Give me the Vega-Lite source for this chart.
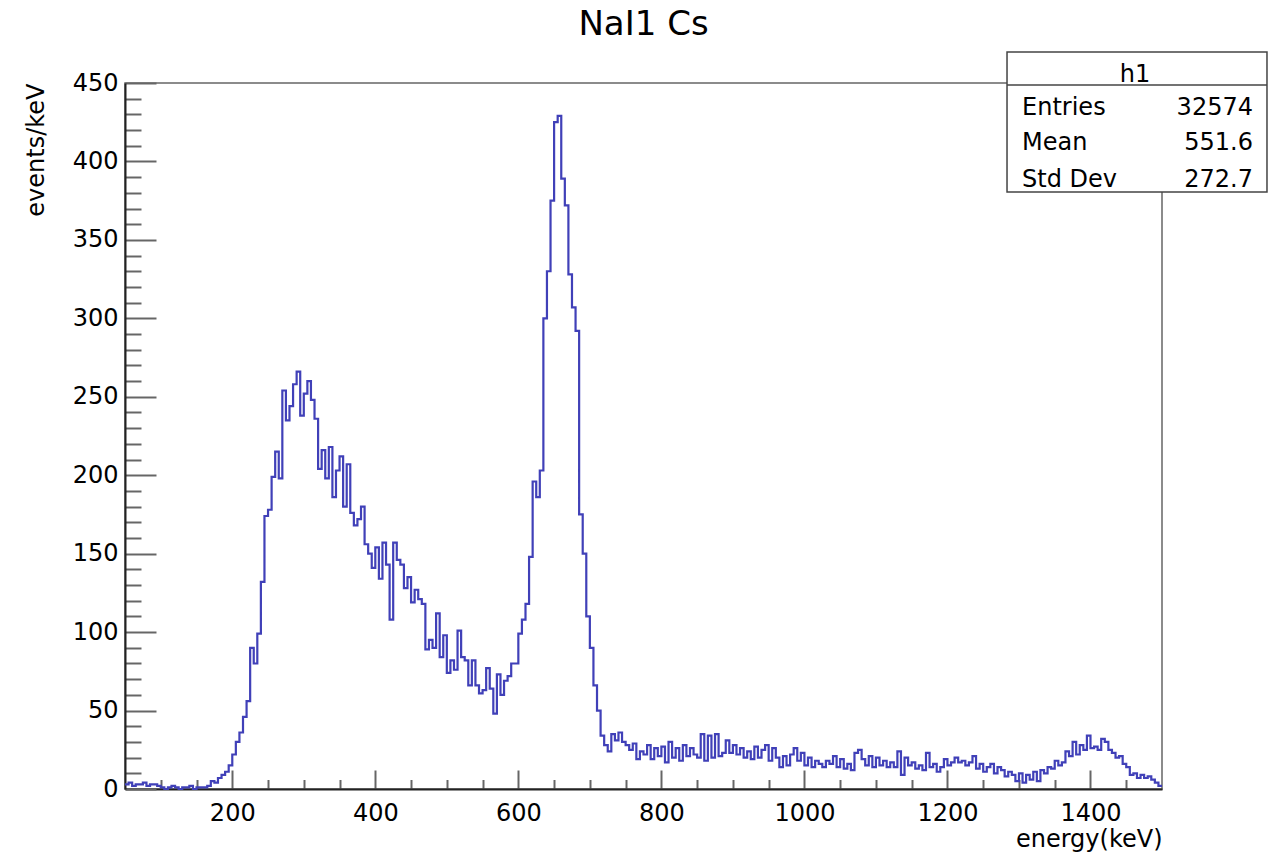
{
  "$schema": "https://vega.github.io/schema/vega-lite/v6.json",
  "width": 1037,
  "height": 706,
  "autosize": {"type": "none"},
  "padding": {"left": 125, "top": 83, "right": 106, "bottom": 63},
  "background": "white",
  "config": {"view": {"stroke": "#666666", "strokeWidth": 1.5}, "font": "DejaVu Sans"},
  "title": {"text": "NaI1 Cs", "fontSize": 34, "font": "DejaVu Sans", "fontWeight": "normal", "color": "black", "anchor": "middle", "baseline": "alphabetic", "offset": 14, "dy": 32},
  "datasets": {
    "h": [
      {"e":50,"v":3},{"e":55,"v":4},{"e":60,"v":2},{"e":65,"v":3},{"e":70,"v":3},{"e":75,"v":4},{"e":80,"v":2},{"e":85,"v":3},{"e":90,"v":3},{"e":95,"v":2},
      {"e":100,"v":1},{"e":105,"v":0},{"e":110,"v":1},{"e":115,"v":2},{"e":120,"v":1},{"e":125,"v":0},{"e":130,"v":1},{"e":135,"v":1},{"e":140,"v":2},{"e":145,"v":0},
      {"e":150,"v":1},{"e":155,"v":1},{"e":160,"v":1},{"e":165,"v":2},{"e":170,"v":5},{"e":175,"v":4},{"e":180,"v":7},{"e":185,"v":9},{"e":190,"v":11},{"e":195,"v":15},
      {"e":200,"v":22},{"e":205,"v":30},{"e":210,"v":36},{"e":215,"v":46},{"e":220,"v":56},{"e":225,"v":90},{"e":230,"v":80},{"e":235,"v":99},{"e":240,"v":132},{"e":245,"v":174},
      {"e":250,"v":178},{"e":255,"v":199},{"e":260,"v":215},{"e":265,"v":198},{"e":270,"v":254},{"e":275,"v":235},{"e":280,"v":244},{"e":285,"v":258},{"e":290,"v":266},{"e":295,"v":238},
      {"e":300,"v":252},{"e":305,"v":260},{"e":310,"v":248},{"e":315,"v":236},{"e":320,"v":204},{"e":325,"v":216},{"e":330,"v":198},{"e":335,"v":218},{"e":340,"v":186},{"e":345,"v":203},
      {"e":350,"v":212},{"e":355,"v":180},{"e":360,"v":207},{"e":365,"v":176},{"e":370,"v":168},{"e":375,"v":172},{"e":380,"v":180},{"e":385,"v":156},{"e":390,"v":150},{"e":395,"v":141},
      {"e":400,"v":154},{"e":405,"v":134},{"e":410,"v":157},{"e":415,"v":143},{"e":420,"v":108},{"e":425,"v":157},{"e":430,"v":146},{"e":435,"v":143},{"e":440,"v":128},{"e":445,"v":135},
      {"e":450,"v":119},{"e":455,"v":127},{"e":460,"v":121},{"e":465,"v":118},{"e":470,"v":89},{"e":475,"v":95},{"e":480,"v":90},{"e":485,"v":112},{"e":490,"v":84},{"e":495,"v":98},
      {"e":500,"v":74},{"e":505,"v":82},{"e":510,"v":76},{"e":515,"v":101},{"e":520,"v":84},{"e":525,"v":82},{"e":530,"v":66},{"e":535,"v":82},{"e":540,"v":66},{"e":545,"v":61},
      {"e":550,"v":63},{"e":555,"v":77},{"e":560,"v":64},{"e":565,"v":48},{"e":570,"v":73},{"e":575,"v":60},{"e":580,"v":69},{"e":585,"v":72},{"e":590,"v":80},{"e":595,"v":80},
      {"e":600,"v":99},{"e":605,"v":108},{"e":610,"v":118},{"e":615,"v":148},{"e":620,"v":196},{"e":625,"v":186},{"e":630,"v":203},{"e":635,"v":300},{"e":640,"v":330},{"e":645,"v":375},
      {"e":650,"v":425},{"e":655,"v":429},{"e":660,"v":389},{"e":665,"v":372},{"e":670,"v":328},{"e":675,"v":307},{"e":680,"v":292},{"e":685,"v":175},{"e":690,"v":150},{"e":695,"v":110},
      {"e":700,"v":90},{"e":705,"v":66},{"e":710,"v":50},{"e":715,"v":34},{"e":720,"v":28},{"e":725,"v":24},{"e":730,"v":35},{"e":735,"v":31},{"e":740,"v":36},{"e":745,"v":30},
      {"e":750,"v":28},{"e":755,"v":25},{"e":760,"v":29},{"e":765,"v":19},{"e":770,"v":24},{"e":775,"v":22},{"e":780,"v":28},{"e":785,"v":19},{"e":790,"v":26},{"e":795,"v":21},
      {"e":800,"v":27},{"e":805,"v":17},{"e":810,"v":30},{"e":815,"v":20},{"e":820,"v":26},{"e":825,"v":18},{"e":830,"v":28},{"e":835,"v":21},{"e":840,"v":26},{"e":845,"v":22},
      {"e":850,"v":20},{"e":855,"v":35},{"e":860,"v":18},{"e":865,"v":34},{"e":870,"v":20},{"e":875,"v":35},{"e":880,"v":21},{"e":885,"v":23},{"e":890,"v":31},{"e":895,"v":23},
      {"e":900,"v":28},{"e":905,"v":22},{"e":910,"v":26},{"e":915,"v":20},{"e":920,"v":24},{"e":925,"v":19},{"e":930,"v":27},{"e":935,"v":20},{"e":940,"v":25},{"e":945,"v":28},
      {"e":950,"v":18},{"e":955,"v":26},{"e":960,"v":20},{"e":965,"v":14},{"e":970,"v":21},{"e":975,"v":15},{"e":980,"v":22},{"e":985,"v":26},{"e":990,"v":18},{"e":995,"v":23},
      {"e":1000,"v":15},{"e":1005,"v":20},{"e":1010,"v":14},{"e":1015,"v":18},{"e":1020,"v":16},{"e":1025,"v":14},{"e":1030,"v":18},{"e":1035,"v":16},{"e":1040,"v":21},{"e":1045,"v":14},
      {"e":1050,"v":19},{"e":1055,"v":13},{"e":1060,"v":16},{"e":1065,"v":12},{"e":1070,"v":23},{"e":1075,"v":25},{"e":1080,"v":19},{"e":1085,"v":15},{"e":1090,"v":21},{"e":1095,"v":14},
      {"e":1100,"v":20},{"e":1105,"v":15},{"e":1110,"v":18},{"e":1115,"v":14},{"e":1120,"v":17},{"e":1125,"v":14},{"e":1130,"v":24},{"e":1135,"v":9},{"e":1140,"v":20},{"e":1145,"v":15},
      {"e":1150,"v":17},{"e":1155,"v":13},{"e":1160,"v":15},{"e":1165,"v":12},{"e":1170,"v":23},{"e":1175,"v":14},{"e":1180,"v":16},{"e":1185,"v":11},{"e":1190,"v":14},{"e":1195,"v":19},
      {"e":1200,"v":15},{"e":1205,"v":17},{"e":1210,"v":20},{"e":1215,"v":17},{"e":1220,"v":18},{"e":1225,"v":15},{"e":1230,"v":17},{"e":1235,"v":21},{"e":1240,"v":13},{"e":1245,"v":16},
      {"e":1250,"v":11},{"e":1255,"v":14},{"e":1260,"v":16},{"e":1265,"v":10},{"e":1270,"v":14},{"e":1275,"v":12},{"e":1280,"v":8},{"e":1285,"v":11},{"e":1290,"v":9},{"e":1295,"v":5},
      {"e":1300,"v":10},{"e":1305,"v":4},{"e":1310,"v":9},{"e":1315,"v":6},{"e":1320,"v":11},{"e":1325,"v":5},{"e":1330,"v":12},{"e":1335,"v":10},{"e":1340,"v":14},{"e":1345,"v":13},
      {"e":1350,"v":18},{"e":1355,"v":15},{"e":1360,"v":17},{"e":1365,"v":24},{"e":1370,"v":21},{"e":1375,"v":30},{"e":1380,"v":22},{"e":1385,"v":28},{"e":1390,"v":25},{"e":1395,"v":34},
      {"e":1400,"v":26},{"e":1405,"v":27},{"e":1410,"v":25},{"e":1415,"v":32},{"e":1420,"v":30},{"e":1425,"v":25},{"e":1430,"v":23},{"e":1435,"v":20},{"e":1440,"v":21},{"e":1445,"v":16},
      {"e":1450,"v":14},{"e":1455,"v":9},{"e":1460,"v":10},{"e":1465,"v":7},{"e":1470,"v":9},{"e":1475,"v":7},{"e":1480,"v":8},{"e":1485,"v":6},{"e":1490,"v":4},{"e":1495,"v":2},
      {"e":1500,"v":2}
    ],
    "box": [{"e": 1283.3, "e2": 1646.8, "v": 469.8, "v2": 380.5}],
    "divider": [{"e": 1283.3, "e2": 1646.8, "v": 448.7}],
    "head": [{"label": "h1", "e": 1462.3, "v": 450.6}],
    "names": [
      {"label": "Entries", "e": 1304.3, "v": 429.6},
      {"label": "Mean", "e": 1304.3, "v": 407.3},
      {"label": "Std Dev", "e": 1304.3, "v": 383.7}
    ],
    "stats": [
      {"label": "32574", "e": 1627.2, "v": 429.6},
      {"label": "551.6", "e": 1627.2, "v": 407.3},
      {"label": "272.7", "e": 1627.2, "v": 383.7}
    ]
  },
  "encoding": {
    "x": {
      "field": "e", "type": "quantitative",
      "scale": {"domain": [50, 1500], "nice": false, "zero": false},
      "axis": {
        "title": "energy(keV)",
        "values": [100,150,200,250,300,350,400,450,500,550,600,650,700,750,800,850,900,950,1000,1050,1100,1150,1200,1250,1300,1350,1400,1450],
        "format": "d",
        "labelExpr": "datum.value % 200 === 0 ? datum.label : ''",
        "tickSize": {"expr": "datum.value % 200 === 0 ? -19 : -9.5"},
        "labelPadding": 31,
        "labelFontSize": 24, "labelFont": "DejaVu Sans", "labelColor": "black",
        "labelOverlap": false, "labelFlush": false,
        "tickColor": "#666666", "tickWidth": 2,
        "domainColor": "#222222", "domainWidth": 2,
        "grid": false,
        "titleFontSize": 24, "titleFont": "DejaVu Sans", "titleFontWeight": "normal", "titleColor": "black",
        "titleX": 1037, "titleY": 57, "titleAlign": "right", "titleAnchor": "end", "titleBaseline": "alphabetic"
      }
    },
    "y": {
      "field": "v", "type": "quantitative",
      "scale": {"domain": [0, 450], "nice": false, "zero": false},
      "axis": {
        "title": "events/keV",
        "values": [0,10,20,30,40,50,60,70,80,90,100,110,120,130,140,150,160,170,180,190,200,210,220,230,240,250,260,270,280,290,300,310,320,330,340,350,360,370,380,390,400,410,420,430,440,450],
        "format": "d",
        "labelExpr": "datum.value % 50 === 0 ? datum.label : ''",
        "tickSize": {"expr": "datum.value % 50 === 0 ? -31 : -16"},
        "labelPadding": 38,
        "labelFontSize": 24, "labelFont": "DejaVu Sans", "labelColor": "black",
        "labelOverlap": false, "labelFlush": false,
        "tickColor": "#666666", "tickWidth": 2,
        "domainColor": "#222222", "domainWidth": 2,
        "grid": false,
        "titleFontSize": 24, "titleFont": "DejaVu Sans", "titleFontWeight": "normal", "titleColor": "black",
        "titleAngle": 270, "titleX": -82, "titleY": 0, "titleAlign": "right", "titleAnchor": "end", "titleBaseline": "alphabetic"
      }
    }
  },
  "layer": [
    {
      "data": {"name": "h"},
      "mark": {"type": "line", "interpolate": "step-after", "color": "#4040b8", "strokeWidth": 2.2}
    },
    {
      "data": {"name": "box"},
      "mark": {"type": "rect", "fill": "white", "stroke": "#444444", "strokeWidth": 1.5},
      "encoding": {"x2": {"field": "e2"}, "y2": {"field": "v2"}}
    },
    {
      "data": {"name": "divider"},
      "mark": {"type": "rule", "color": "#444444", "strokeWidth": 1.5},
      "encoding": {"x2": {"field": "e2"}}
    },
    {
      "data": {"name": "head"},
      "mark": {"type": "text", "align": "center", "baseline": "alphabetic", "fontSize": 24, "font": "DejaVu Sans", "color": "black"},
      "encoding": {"text": {"field": "label"}}
    },
    {
      "data": {"name": "names"},
      "mark": {"type": "text", "align": "left", "baseline": "alphabetic", "fontSize": 24, "font": "DejaVu Sans", "color": "black"},
      "encoding": {"text": {"field": "label"}}
    },
    {
      "data": {"name": "stats"},
      "mark": {"type": "text", "align": "right", "baseline": "alphabetic", "fontSize": 24, "font": "DejaVu Sans", "color": "black"},
      "encoding": {"text": {"field": "label"}}
    }
  ]
}
